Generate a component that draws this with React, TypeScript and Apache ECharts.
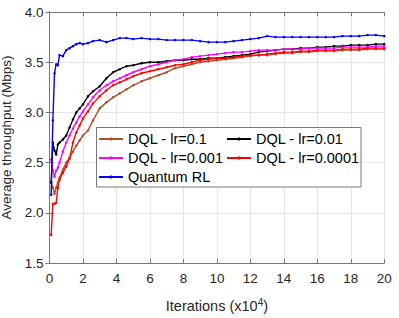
import React, { useEffect, useRef } from "react";
import * as echarts from "echarts";

const iterations = [0.1, 0.2, 0.3, 0.4, 0.5, 0.6, 0.8, 1.0, 1.2, 1.4, 1.6, 1.8, 2.0, 2.3, 2.6, 3.0, 3.4, 3.8, 4.2, 4.6, 5.0, 5.5, 6, 6.5, 7, 7.5, 8, 8.5, 9, 9.5, 10, 10.5, 11, 11.5, 12, 12.5, 13, 13.5, 14, 14.5, 15, 15.5, 16, 16.5, 17, 17.5, 18, 18.5, 19, 19.5, 20];

const dqlLr01 = [2.31, 2.25, 2.19, 2.25, 2.30, 2.35, 2.43, 2.50, 2.55, 2.61, 2.67, 2.72, 2.77, 2.82, 2.92, 3.04, 3.10, 3.15, 3.19, 3.23, 3.27, 3.31, 3.34, 3.37, 3.40, 3.44, 3.46, 3.48, 3.50, 3.51, 3.52, 3.53, 3.54, 3.55, 3.56, 3.57, 3.57, 3.58, 3.59, 3.59, 3.60, 3.60, 3.61, 3.61, 3.61, 3.62, 3.62, 3.62, 3.63, 3.63, 3.63];
const dqlLr001 = [2.30, 2.70, 2.62, 2.58, 2.68, 2.70, 2.73, 2.77, 2.85, 2.93, 3.00, 3.04, 3.08, 3.16, 3.21, 3.26, 3.34, 3.40, 3.43, 3.46, 3.47, 3.49, 3.50, 3.50, 3.51, 3.52, 3.52, 3.53, 3.53, 3.54, 3.54, 3.55, 3.56, 3.57, 3.58, 3.60, 3.61, 3.62, 3.63, 3.63, 3.64, 3.64, 3.65, 3.65, 3.66, 3.66, 3.67, 3.67, 3.67, 3.68, 3.68];
const dqlLr0001 = [2.53, 2.42, 2.36, 2.42, 2.45, 2.50, 2.61, 2.70, 2.77, 2.84, 2.90, 2.96, 3.01, 3.08, 3.15, 3.22, 3.27, 3.31, 3.34, 3.37, 3.40, 3.43, 3.46, 3.48, 3.50, 3.52, 3.53, 3.55, 3.56, 3.57, 3.58, 3.59, 3.60, 3.60, 3.61, 3.62, 3.62, 3.62, 3.63, 3.63, 3.63, 3.64, 3.64, 3.64, 3.64, 3.65, 3.65, 3.65, 3.65, 3.66, 3.66];
const dqlLr00001 = [1.78, 2.09, 2.09, 2.10, 2.25, 2.33, 2.40, 2.46, 2.54, 2.70, 2.80, 2.87, 2.94, 3.01, 3.09, 3.16, 3.22, 3.27, 3.30, 3.33, 3.36, 3.39, 3.41, 3.43, 3.45, 3.47, 3.48, 3.50, 3.52, 3.53, 3.54, 3.54, 3.55, 3.56, 3.57, 3.57, 3.58, 3.59, 3.60, 3.60, 3.61, 3.61, 3.62, 3.62, 3.62, 3.63, 3.63, 3.63, 3.64, 3.64, 3.64];
const quantumRL = [2.18, 2.92, 3.39, 3.48, 3.47, 3.57, 3.56, 3.62, 3.64, 3.66, 3.68, 3.69, 3.68, 3.69, 3.71, 3.72, 3.70, 3.72, 3.74, 3.74, 3.73, 3.74, 3.73, 3.73, 3.72, 3.72, 3.72, 3.72, 3.71, 3.70, 3.70, 3.70, 3.71, 3.72, 3.73, 3.74, 3.76, 3.75, 3.75, 3.75, 3.75, 3.75, 3.75, 3.75, 3.75, 3.76, 3.76, 3.76, 3.77, 3.77, 3.76];

const seriesNames = ["DQL - lr=0.1", "DQL - lr=0.01", "DQL - lr=0.001", "DQL - lr=0.0001", "Quantum RL"];
const seriesValues = [dqlLr01, dqlLr001, dqlLr0001, dqlLr00001, quantumRL];
const seriesColors = ["#A5522D", "#000000", "#FF00FF", "#FF0000", "#0000FF"];

const FONT = "'Liberation Sans', Arial, Helvetica, sans-serif";

export default function App() {
  const ref = useRef<HTMLDivElement>(null);
  useEffect(() => {
    if (!ref.current) return;
    const chart = echarts.init(ref.current, undefined, { renderer: "svg" });
    const series = seriesNames.map((name, i) => ({
      name,
      type: "line",
      xAxisIndex: 0,
      yAxisIndex: 0,
      data: iterations.map((x, j) => [x, seriesValues[i][j]]),
      showSymbol: true,
      symbol: "circle",
      symbolSize: 2.5,
      lineStyle: { color: seriesColors[i], width: 1.4 },
      itemStyle: { color: seriesColors[i] },
      z: i === 4 ? 3 : 2,
    }));
    const legendPos = [
      { name: seriesNames[0], left: 98, top: 131 },
      { name: seriesNames[1], left: 226, top: 131 },
      { name: seriesNames[2], left: 98, top: 150 },
      { name: seriesNames[3], left: 226, top: 150 },
      { name: seriesNames[4], left: 98, top: 169 },
    ];
    const legends = legendPos.map((p) => ({
      data: [p.name],
      left: p.left,
      top: p.top,
      padding: 0,
      itemWidth: 24,
      itemHeight: 4,
      z: 20,
      textStyle: { fontFamily: FONT, fontSize: 14.5, color: "#000", lineHeight: 16 },
    }));
    chart.setOption({
      animation: false,
      backgroundColor: "#fff",
      textStyle: { fontFamily: FONT },
      grid: { left: 49.5, right: 14.7, top: 12, bottom: 55, containLabel: false, outerBoundsMode: "none" },
      legend: legends,
      graphic: [
        {
          type: "rect",
          z: 15,
          shape: { x: 96.5, y: 127.5, width: 264.5, height: 59.5 },
          style: { fill: "#fff", stroke: "#777", lineWidth: 1 },
        },
      ],
      xAxis: [
        {
          type: "value",
          min: 0,
          max: 20,
          interval: 2,
          position: "bottom",
          name: "Iterations (x10{sup|4})",
          nameLocation: "middle",
          nameGap: 34,
          nameTextStyle: {
            fontFamily: FONT,
            fontSize: 14.5,
            color: "#262626",
            rich: { sup: { fontSize: 10, verticalAlign: "top", lineHeight: 18, color: "#262626" } },
          },
          axisLine: { show: true, lineStyle: { color: "#777", width: 1 } },
          axisTick: { show: true, inside: true, length: 4, lineStyle: { color: "#777" } },
          axisLabel: { fontFamily: FONT, fontSize: 13.5, color: "#262626", margin: 8 },
          splitLine: { show: true, lineStyle: { color: "#e6e6e6", width: 1 } },
        },
        {
          type: "value",
          min: 0,
          max: 20,
          interval: 2,
          position: "top",
          axisLine: { show: true, lineStyle: { color: "#777", width: 1 } },
          axisTick: { show: true, inside: true, length: 4, lineStyle: { color: "#777" } },
          axisLabel: { show: false },
          splitLine: { show: false },
        },
      ],
      yAxis: [
        {
          type: "value",
          min: 1.5,
          max: 4,
          interval: 0.5,
          position: "left",
          name: "Average throughput (Mbps)",
          nameLocation: "middle",
          nameGap: 35,
          nameTextStyle: { fontFamily: FONT, fontSize: 13.5, color: "#262626" },
          axisLine: { show: true, lineStyle: { color: "#777", width: 1 } },
          axisTick: { show: true, inside: true, length: 4, lineStyle: { color: "#777" } },
          axisLabel: {
            fontFamily: FONT,
            fontSize: 13.5,
            color: "#262626",
            margin: 6,
            formatter: (v: number) => v.toFixed(1),
          },
          splitLine: { show: true, lineStyle: { color: "#e6e6e6", width: 1 } },
        },
        {
          type: "value",
          min: 1.5,
          max: 4,
          interval: 0.5,
          position: "right",
          axisLine: { show: true, lineStyle: { color: "#777", width: 1 } },
          axisTick: { show: true, inside: true, length: 4, lineStyle: { color: "#777" } },
          axisLabel: { show: false },
          splitLine: { show: false },
        },
      ],
      series,
    });
    return () => chart.dispose();
  }, []);
  return (
    <div
      ref={ref}
      style={{ position: "fixed", left: 0, top: 0, width: 399, height: 318 }}
    />
  );
}
